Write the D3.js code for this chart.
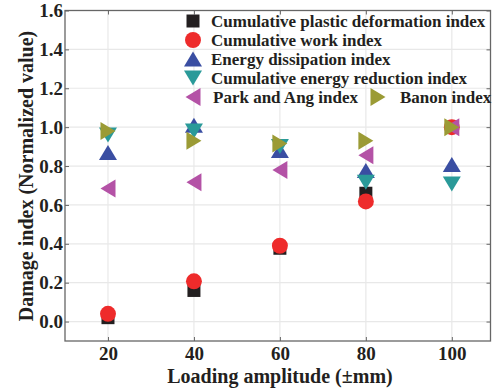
<!DOCTYPE html>
<html>
<head>
<meta charset="utf-8">
<script src="https://cdn.jsdelivr.net/npm/d3@7/dist/d3.min.js"></script>
<style>
  html, body { margin: 0; padding: 0; background: #fff; }
  svg text { font-family: "Liberation Serif", "Times New Roman", serif; font-weight: bold; fill: #231f20; }
</style>
</head>
<body>
<svg id="chart" width="492" height="388"></svg>
<script>
// Loading amplitudes (±mm)
const amplitudes = [20, 40, 60, 80, 100];

// Normalized damage indices per method
const plasticDeformation = [0.02, 0.16, 0.377, 0.66, 1.0];
const cumulativeWork     = [0.04, 0.207, 0.39, 0.618, 1.0];
const energyDissipation  = [0.87, 1.01, 0.88, 0.777, 0.808];
const energyReduction    = [0.96, 0.98, 0.90, 0.716, 0.708];
const parkAng            = [0.685, 0.716, 0.78, 0.855, 1.0];
const banon              = [0.98, 0.93, 0.916, 0.93, 1.0];

const xTicks = [20, 40, 60, 80, 100];
const yTicks = [0, 0.2, 0.4, 0.6, 0.8, 1.0, 1.2, 1.4, 1.6];

const seriesNames = [
  "Cumulative plastic deformation index",
  "Cumulative work index",
  "Energy dissipation index",
  "Cumulative energy reduction index",
  "Park and Ang index",
  "Banon index"
];

const series = [
  { name: seriesNames[0], values: plasticDeformation, shape: "square", color: "#231f20" },
  { name: seriesNames[1], values: cumulativeWork,     shape: "circle", color: "#ee2b2b" },
  { name: seriesNames[2], values: energyDissipation,  shape: "up",     color: "#3a4ea2" },
  { name: seriesNames[3], values: energyReduction,    shape: "down",   color: "#2a9a99" },
  { name: seriesNames[4], values: parkAng,            shape: "left",   color: "#b452a6" },
  { name: seriesNames[5], values: banon,              shape: "right",  color: "#9b9b35" }
];

const svg = d3.select("#chart");
const plotL = 65, plotR = 490.5, plotT = 10.5, plotB = 341;

const x = d3.scaleLinear().domain([10, 109]).range([plotL, plotR]);
const y = d3.scaleLinear().domain([-0.1, 1.6]).range([plotB, plotT]);

// Grid
const grid = svg.append("g");
grid.selectAll("line.gx").data(xTicks).join("line")
  .attr("x1", d => x(d)).attr("x2", d => x(d))
  .attr("y1", plotT).attr("y2", plotB)
  .attr("stroke", "#e8e8e8").attr("stroke-width", 1.2);
grid.selectAll("line.gy").data(yTicks).join("line")
  .attr("x1", plotL).attr("x2", plotR)
  .attr("y1", d => y(d)).attr("y2", d => y(d))
  .attr("stroke", "#e8e8e8").attr("stroke-width", 1.2);

// Axes with inward ticks
const axisColor = "#666";
function styleAxis(g) {
  g.select(".domain").remove();
  g.selectAll(".tick line").attr("stroke", axisColor);
  g.selectAll(".tick text")
    .style("font-family", '"Liberation Serif", "Times New Roman", serif')
    .style("font-weight", "bold").style("font-size", "19px").attr("fill", "#231f20");
}

svg.append("g").attr("transform", `translate(0,${plotB})`)
  .call(d3.axisBottom(x).tickValues(xTicks).tickSize(-4).tickPadding(6).tickFormat(d3.format("d")))
  .call(styleAxis);
svg.append("g").attr("transform", `translate(0,${plotT})`)
  .call(d3.axisTop(x).tickValues(xTicks).tickSize(-4).tickFormat(""))
  .call(styleAxis);
svg.append("g").attr("transform", `translate(${plotL},0)`)
  .call(d3.axisLeft(y).tickValues(yTicks).tickSize(-4).tickPadding(2).tickFormat(d3.format(".1f")))
  .call(styleAxis);
svg.append("g").attr("transform", `translate(${plotR},0)`)
  .call(d3.axisRight(y).tickValues(yTicks).tickSize(-4).tickFormat(""))
  .call(styleAxis);

// Frame
svg.append("rect").attr("x", plotL).attr("y", plotT)
  .attr("width", plotR - plotL).attr("height", plotB - plotT)
  .attr("fill", "none").attr("stroke", axisColor).attr("stroke-width", 1.3);

// Marker path builder
function markerPath(shape) {
  const w = 18, h = 15;
  switch (shape) {
    case "square": return "M-6.5,-6.5H6.5V6.5H-6.5Z";
    case "circle": return d3.symbol(d3.symbolCircle, 200)();
    case "up":    return `M0,${-h/2}L${w/2},${h/2}L${-w/2},${h/2}Z`;
    case "down":  return `M0,${h/2}L${w/2},${-h/2}L${-w/2},${-h/2}Z`;
    case "left":  return `M${-h/2},0L${h/2},${-w/2}L${h/2},${w/2}Z`;
    case "right": return `M${h/2},0L${-h/2},${-w/2}L${-h/2},${w/2}Z`;
  }
}

// Data points
series.forEach(s => {
  svg.append("g").selectAll("path")
    .data(amplitudes.map((a, i) => [a, s.values[i]]))
    .join("path")
    .attr("d", markerPath(s.shape))
    .attr("transform", d => `translate(${x(d[0])},${y(d[1])})`)
    .attr("fill", s.color);
});

// Legend
const legendRows = [
  { s: 0, mx: 193, tx: 211, ty: 21 },
  { s: 1, mx: 193, tx: 211, ty: 40 },
  { s: 2, mx: 193, tx: 211, ty: 59 },
  { s: 3, mx: 193, tx: 211, ty: 78 },
  { s: 4, mx: 193, tx: 213, ty: 97 },
  { s: 5, mx: 378, tx: 400, ty: 97 }
];
const legend = svg.append("g");
legendRows.forEach(r => {
  const s = series[r.s];
  legend.append("path").attr("d", markerPath(s.shape))
    .attr("transform", `translate(${r.mx},${r.ty})`).attr("fill", s.color);
  legend.append("text").attr("x", r.tx).attr("y", r.ty).attr("dy", "0.35em")
    .style("font-size", "17px").text(s.name);
});

// Axis titles
svg.append("text").attr("x", 280).attr("y", 383)
  .attr("text-anchor", "middle").style("font-size", "20px")
  .text("Loading amplitude (\u00B1mm)");
svg.append("text").attr("transform", "translate(33,176) rotate(-90)")
  .attr("text-anchor", "middle").style("font-size", "20px")
  .text("Damage index (Normalized value)");
</script>
</body>
</html>
